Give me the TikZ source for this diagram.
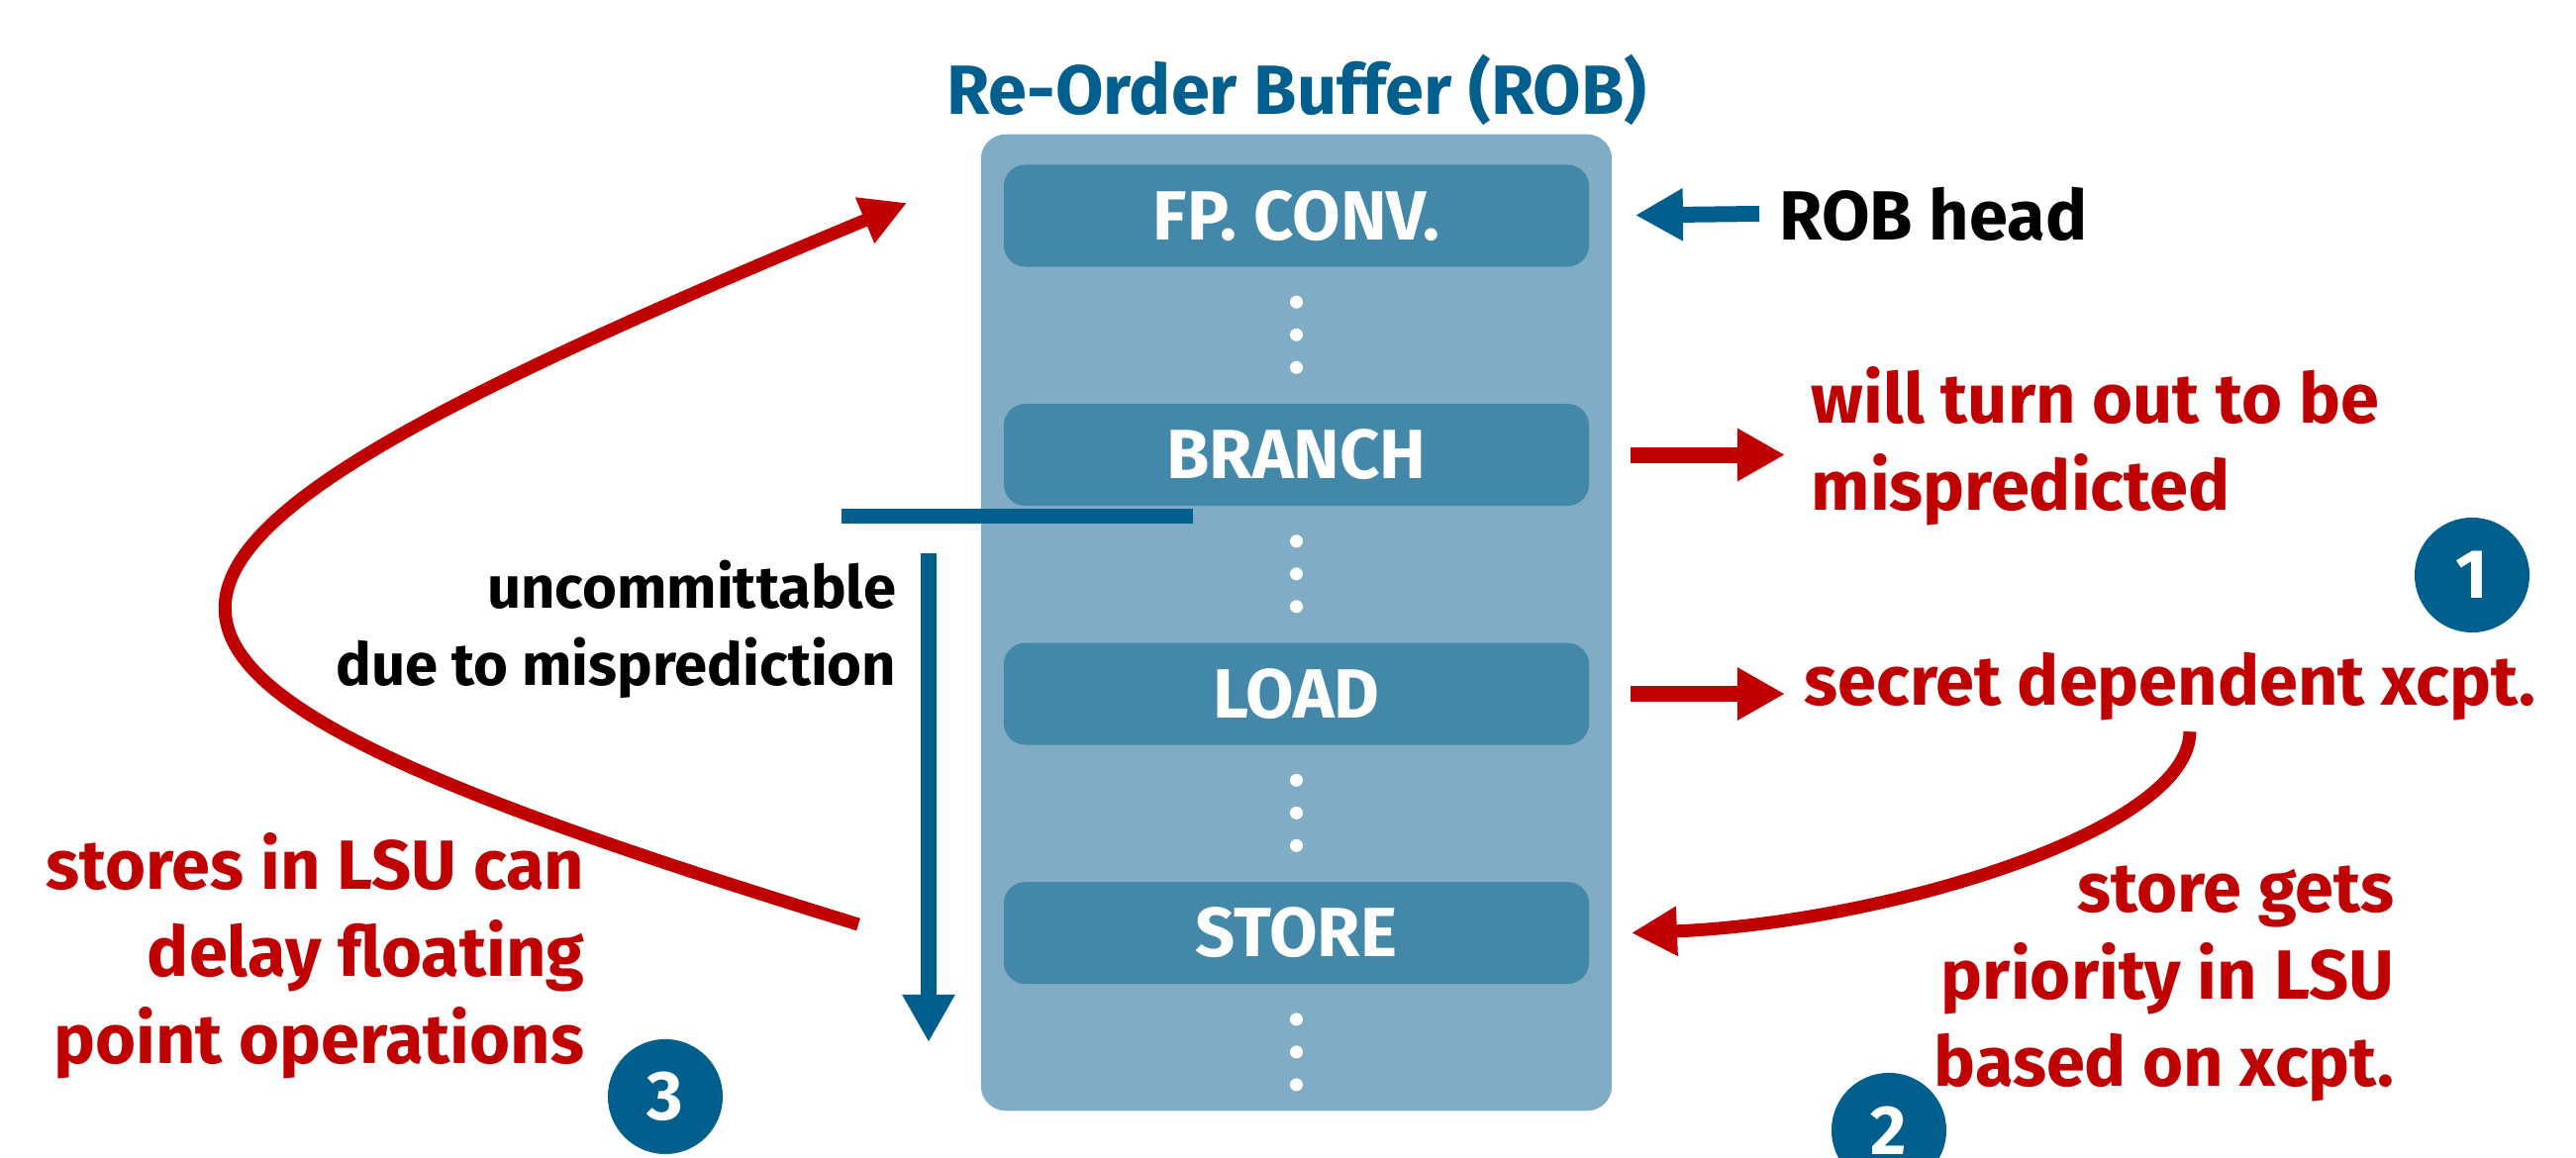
\documentclass[tikz,border=0pt]{standalone}
\usepackage{fontspec}
\setmainfont{Fira Sans}
\usepackage{tikz}
\usetikzlibrary{positioning,arrows.meta,calc}

\definecolor{robblue}{HTML}{005F8C}
\definecolor{robred}{HTML}{C00000}
\definecolor{robouter}{HTML}{80ADC5}
\definecolor{robinner}{HTML}{4387A9}

\begin{document}
\begin{tikzpicture}[x=0.01cm, y=0.01cm, node distance=1.37cm,
    font=\fontsize{20}{25}\selectfont\bfseries,
    entry/.style={fill=robinner, text=white, rounded corners=0.22cm, minimum width=5.91cm, minimum height=1.03cm},
    rednote/.style={text=robred, inner sep=0pt},
    blacknote/.style={inner sep=0pt, font=\fontsize{17}{22}\selectfont\bfseries},
    num/.style={circle, fill=robblue, text=white, minimum size=1.16cm, inner sep=0pt},
    bluearrow/.style={draw=robblue, line width=0.16cm, -{Triangle[length=0.48cm,width=0.5cm]}},
    redarrow/.style={draw=robred, line width=0.16cm, -{Triangle[length=0.48cm,width=0.5cm]}},
    redcurve/.style={draw=robred, line width=0.13cm, -{Triangle[length=0.46cm,width=0.47cm]}}]

  \useasboundingbox (0,0) rectangle (2602,1170);

  % the buffer and its entries
  \node[fill=robouter, rounded corners=0.25cm, minimum width=6.37cm, minimum height=9.86cm] (rob) at (1309.5,541) {};
  \node[text=robblue] (title) at (1310,1079) {Re-Order Buffer (ROB)};

  \node[entry] (fp) at (1309.5,952) {FP. CONV.};
  \node[entry, below=of fp] (branch) {BRANCH};
  \node[entry, below=of branch] (load) {LOAD};
  \node[entry, below=of load] (store) {STORE};

  \foreach \e in {fp,branch,load,store}
    \foreach \k in {1,2,3}
      \fill[white] ([yshift=-0.02cm-0.33cm*\k]\e.south) circle (0.065cm);

  % right side
  \node[blacknote, font=\fontsize{20}{25}\selectfont\bfseries, inner sep=0.2cm, anchor=west] (robhead) at (1777,954) {ROB head};
  \draw[bluearrow, shorten >=0.46cm] (robhead.west) -- (fp.east);

  \node[rednote, align=left, anchor=west] (mispred) at (1829,719) {will turn out to be\\mispredicted};
  \draw[redarrow, shorten <=0.41cm, shorten >=0.26cm] (branch.east) -- (branch.east -| mispred.west);

  \node[rednote, anchor=west] (secret) at (1822,476) {secret dependent xcpt.};
  \draw[redarrow, shorten <=0.41cm, shorten >=0.19cm] (load.east) -- (load.east -| secret.west);
  \node[num] (one) at (2497,589) {1};

  \node[rednote, align=right, anchor=east] (priority) at (2419,176) {store gets\\priority in LSU\\based on xcpt.};
  \node[num] (two) at (1908,28) {2};
  \draw[redcurve] ([xshift=0.2cm,yshift=-0.1cm]secret.south) .. controls +(0,-101) and +(253,10) .. ([xshift=0.42cm]store.east);

  % left side
  \node[blacknote, align=right, anchor=east] (uncommit) at (906,534) {uncommittable\\due to misprediction};
  \coordinate (cutL) at (850,648);
  \coordinate (cutR) at (1205,648);
  \draw[robblue, line width=0.15cm] (cutL) -- (cutR);
  \coordinate (down) at (938,611);
  \coordinate (downend) at (938,117);
  \draw[bluearrow] (down) -- (downend);

  \node[rednote, align=right, anchor=east] (lsu) at (591,204) {stores in LSU can\\delay floating\\point operations};
  \node[num] (three) at (672,62) {3};
  \coordinate (delay) at (867,236);
  \draw[redcurve] (delay) .. controls (10,500) and (15,590) .. ([xshift=-0.97cm,yshift=0.13cm]fp.west);
\end{tikzpicture}
\end{document}
